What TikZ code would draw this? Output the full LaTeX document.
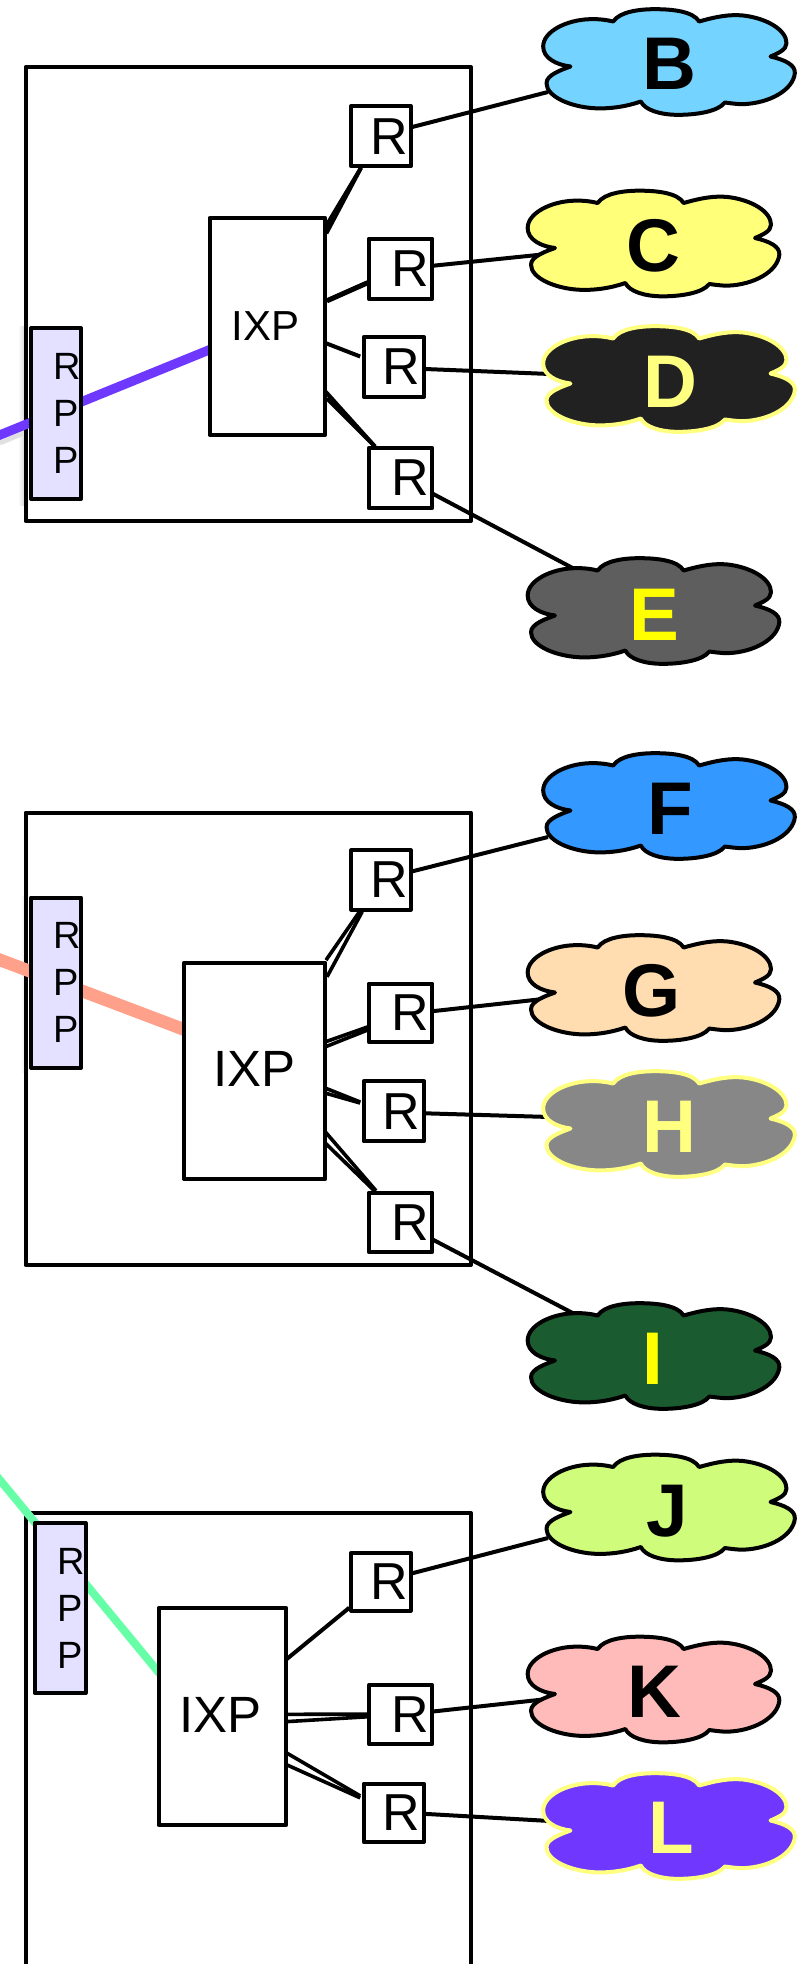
\documentclass[tikz,border=0pt]{standalone}
\usepackage{fontspec}
\setmainfont{Liberation Sans}
\pgfdeclarelayer{back}
\pgfsetlayers{back,main}
\definecolor{cRPP}{HTML}{E4E0FF}
\definecolor{cB}{HTML}{75D3FF}
\definecolor{cC}{HTML}{FFFF7A}
\definecolor{cD}{HTML}{212121}
\definecolor{cE}{HTML}{5E5E5E}
\definecolor{cF}{HTML}{3398FF}
\definecolor{cG}{HTML}{FFDDB0}
\definecolor{cH}{HTML}{878787}
\definecolor{cI}{HTML}{1A5C30}
\definecolor{cJ}{HTML}{D0FC7C}
\definecolor{cK}{HTML}{FFBBB9}
\definecolor{cL}{HTML}{7038FF}
\definecolor{cY}{HTML}{FFFF80}
\definecolor{cPure}{HTML}{FFFF00}
\definecolor{lPurple}{HTML}{6F38FF}
\definecolor{lOrange}{HTML}{FFA08A}
\definecolor{lGreen}{HTML}{66FFA8}
\newcommand{\pbox}[7]{\node[#2,minimum width={(#5-#3)*0.75pt},minimum height={(#6-#4)*0.75pt}] (#1) at ({(#3+#5)/2},{(#4+#6)/2}) {#7};}
\newcommand{\lnk}[5][]{\draw[link,#1] ([shift={(#3)}]#2) -- ([shift={(#5)}]#4);}
\newcommand{\cloudshape}[4]{%
\begin{scope}[shift={(#1,#2)},x=0.25pt,y=-0.25pt,shift={(-417.5,-186.5)}]
\draw[fill=#3,draw=#4,line width=3pt,line join=round]
 (250,65) .. controls (270,35) and (330,28) .. (375,28)
 .. controls (430,28) and (490,35) .. (508,65)
 .. controls (560,50) and (600,43) .. (640,47)
 .. controls (710,55) and (770,90) .. (770,130)
 .. controls (770,150) and (745,160) .. (722,170)
 .. controls (765,180) and (797,195) .. (795,220)
 .. controls (790,270) and (720,310) .. (640,313)
 .. controls (620,313) and (600,310) .. (585,308)
 .. controls (565,335) and (500,345) .. (445,345)
 .. controls (390,345) and (345,330) .. (333,305)
 .. controls (290,320) and (240,328) .. (190,325)
 .. controls (120,320) and (50,290) .. (50,250)
 .. controls (50,225) and (95,210) .. (122,200)
 .. controls (80,195) and (40,175) .. (40,140)
 .. controls (40,95) and (110,60) .. (180,58)
 .. controls (205,57) and (230,60) .. (250,65) -- cycle;
\end{scope}}
\tikzset{
 x=0.75pt,y=-0.75pt,
 panel/.style={draw=black,line width=3pt,inner sep=0pt,outer sep=0pt,line join=round},
 rppbox/.style={draw=black,fill=cRPP,line width=3pt,inner sep=0pt,outer sep=0pt,line join=round,
   text width=37.5pt,align=left,font=\fontsize{28.5pt}{35.25pt}\selectfont},
 ixpbox/.style={draw=black,fill=white,line width=3pt,inner sep=0pt,outer sep=0pt,line join=round},
 rbox/.style={draw=black,fill=white,line width=3pt,inner sep=0pt,outer sep=0pt,line join=round,font=\fontsize{39pt}{40pt}\selectfont},
 link/.style={draw=black,line width=3pt},
 thinlink/.style={line width=2.7pt},
 boldlink/.style={line width=3.8pt},
 letter/.style={inner sep=0pt,outer sep=0pt,font=\fontsize{56pt}{58pt}\selectfont\bfseries},
}
\newcommand{\rtxt}[1]{\hspace*{#1}R}
\newcommand{\rpp}{\hspace*{17pt}R\\\hspace*{17pt}P\\\hspace*{17pt}P}
\begin{document}
\begin{tikzpicture}
\useasboundingbox (0,0) rectangle (797,1964);
% boxes
\pbox{ixpA}{ixpbox,font=\fontsize{31.5pt}{33pt}\selectfont}{209.5}{218}{325.3}{434.7}{\raisebox{-1pt}{\hspace*{-3pt}IXP}}
\pbox{rppA}{rppbox}{31}{328}{81}{499}{\rpp}
\pbox{r1a}{rbox}{351.3}{106}{410.7}{166.3}{\rtxt{12.75pt}}
\pbox{r2a}{rbox}{368.7}{238.7}{432.3}{298.7}{\rtxt{14.25pt}}
\pbox{r3a}{rbox}{363.7}{337}{424}{397}{\rtxt{11.4pt}}
\pbox{r4a}{rbox}{368.7}{448}{432.3}{508}{\rtxt{14.25pt}}
\pbox{ixpB}{ixpbox,font=\fontsize{38.25pt}{40pt}\selectfont}{184}{962.7}{325.3}{1179}{\raisebox{2.2pt}{IXP}}
\pbox{rppB}{rppbox}{31}{897.5}{81}{1068}{\rpp}
\pbox{r1b}{rbox}{351.3}{850.3}{410.7}{909.7}{\rtxt{12.75pt}}
\pbox{r2b}{rbox}{368.7}{983.7}{432.3}{1042}{\rtxt{14.25pt}}
\pbox{r3b}{rbox}{363.7}{1081.3}{424}{1141.3}{\rtxt{11.4pt}}
\pbox{r4b}{rbox}{368.7}{1192.7}{432.3}{1252}{\rtxt{14.25pt}}
\pbox{ixpC}{ixpbox,font=\fontsize{38.25pt}{40pt}\selectfont}{158.6}{1608}{286.3}{1825}{\raisebox{2.2pt}{\hspace*{-3pt}IXP}}
\pbox{rppC}{rppbox}{34.5}{1523}{85.5}{1693}{\rpp}
\pbox{r1c}{rbox}{351.3}{1552.7}{410.7}{1610.7}{\rtxt{12.75pt}}
\pbox{r2c}{rbox}{368.7}{1685.3}{432.3}{1744}{\rtxt{14.25pt}}
\pbox{r3c}{rbox}{363.7}{1783.7}{424}{1842}{\rtxt{11.4pt}}
% clouds
\cloudshape{669}{62}{cB}{black}
\node[letter,text=black] (B) at (669.5,64) {B};
\cloudshape{653.5}{243.5}{cC}{black}
\node[letter,text=black] (C) at (653,245.5) {C};
\cloudshape{669}{379}{cD}{cY}
\node[letter,text=cY] (D) at (670,382) {D};
\cloudshape{653.5}{611}{cE}{black}
\node[letter,text=cPure] (E) at (654,615) {E};
\cloudshape{669}{806}{cF}{black}
\node[letter,text=black] (F) at (670,809) {F};
\cloudshape{653.5}{988}{cG}{black}
\node[letter,text=black] (G) at (652,990.5) {G};
\cloudshape{669}{1124}{cH}{cY}
\node[letter,text=cY] (H) at (669,1127) {H};
\cloudshape{653.5}{1356}{cI}{black}
\node[letter,text=cPure] (I) at (653,1359) {I};
\cloudshape{669}{1507.5}{cJ}{black}
\node[letter,text=black] (J) at (667.5,1511) {J};
\cloudshape{653.5}{1689.5}{cK}{black}
\node[letter,text=black] (K) at (654,1692) {K};
\cloudshape{669}{1826}{cL}{cY}
\node[letter,text=cY] (L) at (671,1828) {L};
\begin{pgfonlayer}{back}
\fill[white] (0,0) rectangle (797,1964);
% shadows beside the RPP boxes
\shade[left color=white,right color=black!14] (18,326) rectangle (24,505);
\shade[left color=white,right color=black!6] (20,896) rectangle (24,1072);
\draw[black!12,line width=3.5pt] (0,443) -- (24,433);
% coloured trunks
\pbox{panelA}{panel}{25.5}{67}{471}{521}{}
\pbox{panelB}{panel}{25.5}{812.5}{471}{1265}{}
\pbox{panelC}{panel}{25.5}{1513}{471}{1990}{}
\coordinate (startA) at (-5,437);
\coordinate (startB) at (-5,958);
\coordinate (startC) at (-5,1474);
\draw[lPurple,line width=7pt] (startA) -- ([shift={(1,23)}]ixpA.west);
\draw[lOrange,line width=9.5pt] (startB) -- ([shift={(1,-41)}]ixpB.west);
\draw[lGreen,line width=6pt] (startC) -- ([shift={(1,-43)}]ixpC.west);
% panel A
\lnk{ixpA.east}{0,-99}{r1a.south}{-20,1.5}
\lnk{ixpA.east}{1,-93}{r1a.south}{-20,1.5}
\lnk[boldlink]{ixpA.east}{1.5,-25.5}{r2a.west}{-1,14}
\lnk{ixpA.east}{1,17}{r3a.west}{-3.5,-10.5}
\lnk{ixpA.east}{0,65}{r4a.north}{-25.5,-1.5}
\lnk{ixpA.east}{1.5,72}{r4a.north}{-25.5,-1.5}
\lnk{r1a.east}{1,-9}{B.center}{-121.5,28}
\lnk{r2a.east}{1,-3}{C.center}{-101,8}
\lnk{r3a.east}{1,2}{D.center}{-120,-8}
\lnk{r4a.east}{1,16}{E.center}{-79.5,-46}
% panel B
\lnk[thinlink]{ixpB.east}{0.7,-110.75}{r1b.south}{-21.5,2}
\lnk[thinlink]{ixpB.east}{1.7,-94}{r1b.south}{-18.8,2}
\lnk[thinlink]{ixpB.east}{0,-29}{r2b.west}{-0.8,14}
\lnk[thinlink]{ixpB.east}{0,-24}{r2b.west}{-0.8,17}
\lnk[thinlink]{ixpB.east}{0,17.25}{r3b.west}{-3.5,-9.3}
\lnk[thinlink]{ixpB.east}{0,22.25}{r3b.west}{-3.5,-8.3}
\lnk[thinlink]{ixpB.east}{0,61}{r4b.north}{-24.5,-2}
\lnk[thinlink]{ixpB.east}{0,72.25}{r4b.north}{-25.5,-1.3}
\lnk{r1b.east}{1,-8.5}{F.center}{-122,28}
\lnk{r2b.east}{1,-1.75}{G.center}{-100,7.5}
\lnk{r3b.east}{1,2}{H.center}{-119,-10}
\lnk{r4b.east}{1,17.5}{I.center}{-78.5,-45}
% panel C
\lnk{ixpC.east}{-1.3,-56}{r1c.west}{-2,26}
\lnk[thinlink]{ixpC.east}{-1.3,-2.2}{r2c.west}{0.5,-0.45}
\lnk[thinlink]{ixpC.east}{-1.3,5.2}{r2c.west}{0.5,2}
\lnk[thinlink]{ixpC.east}{-1.3,35.5}{r3c.west}{-3.5,-17}
\lnk[thinlink]{ixpC.east}{-1.3,47.5}{r3c.west}{-3.5,-15}
\lnk{r1c.east}{1,-8.3}{J.center}{-119.5,27}
\lnk{r2c.east}{1,-3.2}{K.center}{-102,6.5}
\lnk{r3c.east}{1,1}{L.center}{-121,-7}
\end{pgfonlayer}
\end{tikzpicture}
\end{document}
